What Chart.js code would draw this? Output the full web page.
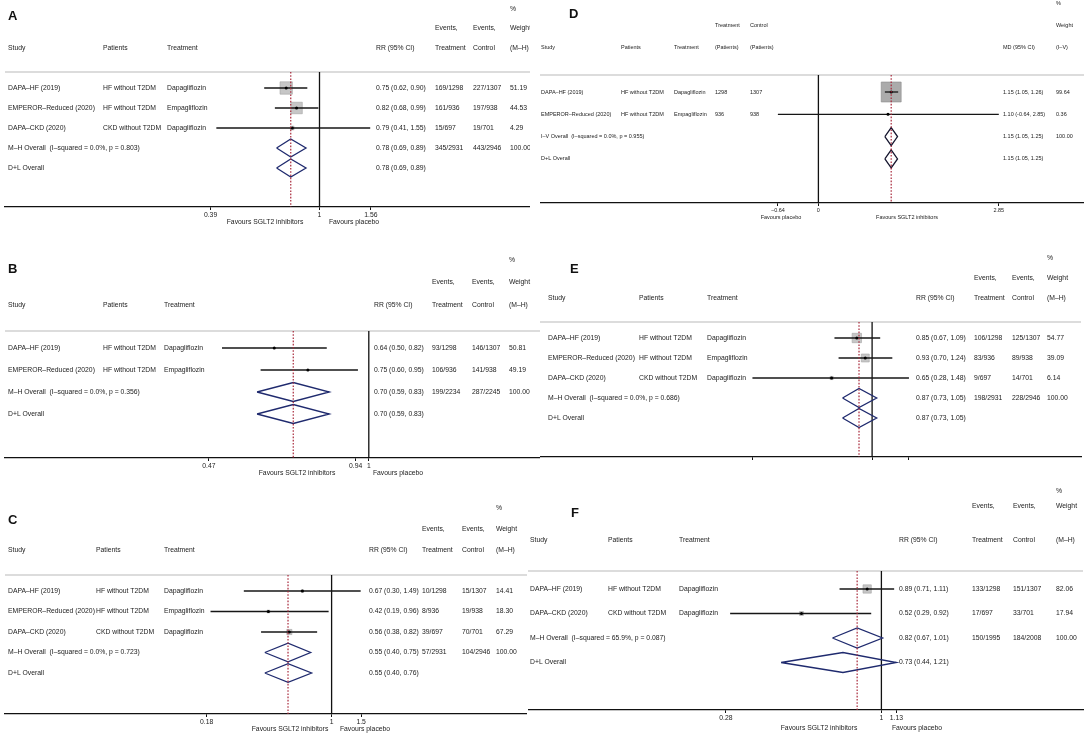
<!DOCTYPE html>
<html>
<head>
<meta charset="utf-8">
<title>SGLT2 inhibitors forest plots</title>
<script src="https://cdn.jsdelivr.net/npm/chart.js@4.4.1/dist/chart.umd.min.js"></script>
<style>
  html, body { margin: 0; padding: 0; background: #fff; }
  #page { position: relative; width: 1084px; height: 736px; overflow: hidden; background: #fff; }
  #page canvas { position: absolute; }
</style>
</head>
<body>
<div id="page">
  <canvas id="forestA"></canvas>
  <canvas id="forestB"></canvas>
  <canvas id="forestC"></canvas>
  <canvas id="forestD"></canvas>
  <canvas id="forestE"></canvas>
  <canvas id="forestF"></canvas>
</div>
<script>
const FONT = '"Liberation Sans", Arial, Helvetica, sans-serif';
Chart.defaults.font.family = FONT;

// Column headings
const headPercent = ["", "", "", "", "", "", "%"];
const headEvents = ["", "", "", "", "Events,", "Events,", "Weight"];
const headRR = ["Study", "Patients", "Treatment", "RR (95% CI)", "Treatment", "Control", "(M–H)"];
const headCounts = ["", "", "", "Treatment", "Control", "", "Weight"];
const headMD = ["Study", "Patients", "Treatment", "(Patients)", "(Patients)", "MD (95% CI)", "(I–V)"];
const favoursRR = ["Favours SGLT2 inhibitors", "Favours placebo"];
const favoursMD = ["Favours placebo", "Favours SGLT2 inhibitors"];

// Panel A
const studyA = ["DAPA–HF (2019)", "EMPEROR–Reduced (2020)", "DAPA–CKD (2020)", "M–H Overall  (I–squared = 0.0%, p = 0.803)", "D+L Overall"];
const patientsA = ["HF without T2DM", "HF without T2DM", "CKD without T2DM"];
const drugA = ["Dapagliflozin", "Empagliflozin", "Dapagliflozin"];
const rrA = [0.75, 0.82, 0.79, 0.78, 0.78];
const lowA = [0.62, 0.68, 0.41, 0.69, 0.69];
const highA = [0.90, 0.99, 1.55, 0.89, 0.89];
const eventsTA = ["169/1298", "161/936", "15/697", "345/2931"];
const eventsCA = ["227/1307", "197/938", "19/701", "443/2946"];
const weightA = [51.19, 44.53, 4.29, 100.00];
const ticksA = [0.39, 1, 1.56];

// Panel B
const studyB = ["DAPA–HF (2019)", "EMPEROR–Reduced (2020)", "M–H Overall  (I–squared = 0.0%, p = 0.356)", "D+L Overall"];
const patientsB = ["HF without T2DM", "HF without T2DM"];
const drugB = ["Dapagliflozin", "Empagliflozin"];
const rrB = [0.64, 0.75, 0.70, 0.70];
const lowB = [0.50, 0.60, 0.59, 0.59];
const highB = [0.82, 0.95, 0.83, 0.83];
const eventsTB = ["93/1298", "106/936", "199/2234"];
const eventsCB = ["146/1307", "141/938", "287/2245"];
const weightB = [50.81, 49.19, 100.00];
const ticksB = [0.47, 0.94, 1];

// Panel C
const studyC = ["DAPA–HF (2019)", "EMPEROR–Reduced (2020)", "DAPA–CKD (2020)", "M–H Overall  (I–squared = 0.0%, p = 0.723)", "D+L Overall"];
const patientsC = ["HF without T2DM", "HF without T2DM", "CKD without T2DM"];
const drugC = ["Dapagliflozin", "Empagliflozin", "Dapagliflozin"];
const rrC = [0.67, 0.42, 0.56, 0.55, 0.55];
const lowC = [0.30, 0.19, 0.38, 0.40, 0.40];
const highC = [1.49, 0.96, 0.82, 0.75, 0.76];
const eventsTC = ["10/1298", "8/936", "39/697", "57/2931"];
const eventsCC = ["15/1307", "19/938", "70/701", "104/2946"];
const weightC = [14.41, 18.30, 67.29, 100.00];
const ticksC = [0.18, 1, 1.5];

// Panel D (mean difference)
const studyD = ["DAPA–HF (2019)", "EMPEROR–Reduced (2020)", "I–V Overall  (I–squared = 0.0%, p = 0.955)", "D+L Overall"];
const patientsD = ["HF without T2DM", "HF without T2DM"];
const drugD = ["Dapagliflozin", "Empagliflozin"];
const mdD = [1.15, 1.10, 1.15, 1.15];
const lowD = [1.05, -0.64, 1.05, 1.05];
const highD = [1.26, 2.85, 1.25, 1.25];
const countTD = ["1298", "936"];
const countCD = ["1307", "938"];
const weightD = [99.64, 0.36, 100.00];
const ticksD = [-0.64, 0, 2.85];

// Panel E
const studyE = ["DAPA–HF (2019)", "EMPEROR–Reduced (2020)", "DAPA–CKD (2020)", "M–H Overall  (I–squared = 0.0%, p = 0.686)", "D+L Overall"];
const patientsE = ["HF without T2DM", "HF without T2DM", "CKD without T2DM"];
const drugE = ["Dapagliflozin", "Empagliflozin", "Dapagliflozin"];
const rrE = [0.85, 0.93, 0.65, 0.87, 0.87];
const lowE = [0.67, 0.70, 0.28, 0.73, 0.73];
const highE = [1.09, 1.24, 1.48, 1.05, 1.05];
const eventsTE = ["106/1298", "83/936", "9/697", "198/2931"];
const eventsCE = ["125/1307", "89/938", "14/701", "228/2946"];
const weightE = [54.77, 39.09, 6.14, 100.00];
const ticksE = [0.28, 1, 1.48];

// Panel F
const studyF = ["DAPA–HF (2019)", "DAPA–CKD (2020)", "M–H Overall  (I–squared = 65.9%, p = 0.087)", "D+L Overall"];
const patientsF = ["HF without T2DM", "CKD without T2DM"];
const drugF = ["Dapagliflozin", "Dapagliflozin"];
const rrF = [0.89, 0.52, 0.82, 0.73];
const lowF = [0.71, 0.29, 0.67, 0.44];
const highF = [1.11, 0.92, 1.01, 1.21];
const eventsTF = ["133/1298", "17/697", "150/1995"];
const eventsCF = ["151/1307", "33/701", "184/2008"];
const weightF = [82.06, 17.94, 100.00];
const ticksF = [0.28, 1, 1.13];

// Layout of each panel in page pixels: canvas box, plot area [left, right, top, bottom],
// where the null line sits and how many px one (log) unit takes.
const panels = [
  { id: "A", scale: "log", study: studyA, patients: patientsA, drug: drugA, est: rrA, low: lowA, high: highA,
    colA: eventsTA, colB: eventsCA, weight: weightA, ticks: ticksA, heads: [headPercent, headEvents, headRR],
    favours: favoursRR, ciCol: 3,
    box: [0, 0, 530, 240], plot: [5, 530, 72, 207], nullPx: 319.5, ppu: 115.7,
    row0: 88, rowStep: 20, diamond: 9, boxK: 1.73, fs: 6.8,
    cols: [8, 103, 167, 376, 435, 473, 510], headY: [9, 28, 48], letterAt: [8, 20], favX: [265, 354], favY: 222 },
  { id: "B", scale: "log", study: studyB, patients: patientsB, drug: drugB, est: rrB, low: lowB, high: highB,
    colA: eventsTB, colB: eventsCB, weight: weightB, ticks: ticksB, heads: [headPercent, headEvents, headRR],
    favours: favoursRR, ciCol: 3,
    box: [0, 240, 540, 240], plot: [5, 540, 331, 458], nullPx: 368.8, ppu: 211.8,
    row0: 348, rowStep: 22, diamond: 9.5, boxK: 0, fs: 6.8,
    cols: [8, 103, 164, 374, 432, 472, 509], headY: [260, 282, 305], letterAt: [8, 273], favX: [297, 398], favY: 473 },
  { id: "C", scale: "log", study: studyC, patients: patientsC, drug: drugC, est: rrC, low: lowC, high: highC,
    colA: eventsTC, colB: eventsCC, weight: weightC, ticks: ticksC, heads: [headPercent, headEvents, headRR],
    favours: favoursRR, ciCol: 3,
    box: [0, 480, 527, 256], plot: [5, 527, 575, 714], nullPx: 331.6, ppu: 72.9,
    row0: 591, rowStep: 20.5, diamond: 9.3, boxK: 0.63, fs: 6.8,
    cols: [8, 96, 164, 369, 422, 462, 496], headY: [508, 529, 550], letterAt: [8, 524], favX: [290, 365], favY: 729 },
  { id: "D", scale: "linear", study: studyD, patients: patientsD, drug: drugD, est: mdD, low: lowD, high: highD,
    colA: countTD, colB: countCD, weight: weightD, ticks: ticksD, heads: [headPercent, headCounts, headMD],
    favours: favoursMD, ciCol: 5, boxFill: "#ababab", boxEdge: "#8a8a8a", diamondColor: "#15152e",
    box: [540, 0, 544, 240], plot: [540, 1084, 75, 203], nullPx: 818.4, ppu: 63.3,
    row0: 92, rowStep: 22.3, diamond: 9, boxK: 2.0, fs: 5.5,
    cols: [541, 621, 674, 715, 750, 1003, 1056], headY: [3, 25, 47], letterAt: [569, 18], favX: [781, 907], favY: 217 },
  { id: "E", scale: "log", study: studyE, patients: patientsE, drug: drugE, est: rrE, low: lowE, high: highE,
    colA: eventsTE, colB: eventsCE, weight: weightE, ticks: ticksE, heads: [headPercent, headEvents, headRR],
    favours: null, ciCol: 3, tickLabels: false,
    box: [540, 240, 544, 224], plot: [540, 1081, 322, 457], nullPx: 872.1, ppu: 94,
    row0: 338, rowStep: 20, diamond: 9.5, boxK: 1.27, fs: 6.8,
    cols: [548, 639, 707, 916, 974, 1012, 1047], headY: [258, 278, 298], letterAt: [570, 273] },
  { id: "F", scale: "log", study: studyF, patients: patientsF, drug: drugF, est: rrF, low: lowF, high: highF,
    colA: eventsTF, colB: eventsCF, weight: weightF, ticks: ticksF, heads: [headPercent, headEvents, headRR],
    favours: favoursRR, ciCol: 3,
    box: [528, 480, 556, 256], plot: [528, 1083, 571, 710], nullPx: 881.4, ppu: 122.2,
    row0: 589, rowStep: 24.5, diamond: 10, boxK: 0.92, fs: 6.8,
    cols: [530, 608, 679, 899, 972, 1013, 1056], headY: [491, 506, 540], letterAt: [571, 517], favX: [819, 917], favY: 728 }
];
const panelById = {};
panels.forEach(p => { panelById["forest" + p.id] = p; });

function ciText(e, l, h) {
  return e.toFixed(2) + " (" + l.toFixed(2) + ", " + h.toFixed(2) + ")";
}

function rowCells(p, i) {
  const w = p.weight[i];
  const cells = [p.study[i], p.patients[i] || "", p.drug[i] || "", p.colA[i] || "", p.colB[i] || "",
    w === undefined ? "" : w.toFixed(2)];
  cells.splice(p.ciCol, 0, ciText(p.est[i], p.low[i], p.high[i]));
  return cells;
}

// Draws the text table, header rule and favours captions around the plot
const tablePlugin = {
  id: "forestTable",
  beforeDatasetsDraw(chart) {
    const ctx = chart.ctx, ca = chart.chartArea;
    ctx.save();
    ctx.strokeStyle = "#d0d0d0";
    ctx.lineWidth = 1.6;
    ctx.beginPath();
    ctx.moveTo(ca.left, ca.top);
    ctx.lineTo(ca.right, ca.top);
    ctx.stroke();
    ctx.restore();
  },
  afterDraw(chart) {
    const p = panelById[chart.canvas.id];
    const ctx = chart.ctx;
    const bx = p.box[0], by = p.box[1];
    ctx.save();
    ctx.textAlign = "left";
    ctx.fillStyle = "#111";
    ctx.font = "bold 13px " + FONT;
    ctx.textBaseline = "alphabetic";
    ctx.fillText(p.id, p.letterAt[0] - bx, p.letterAt[1] - by);

    ctx.font = p.fs + "px " + FONT;
    ctx.textBaseline = "middle";
    ctx.fillStyle = "#222";
    p.heads.forEach((row, r) => {
      row.forEach((t, c) => { if (t) ctx.fillText(t, p.cols[c] - bx, p.headY[r] - by); });
    });

    const ys = chart.scales.y;
    p.study.forEach((_, i) => {
      const y = ys.getPixelForValue(i);
      rowCells(p, i).forEach((t, c) => { if (t) ctx.fillText(t, p.cols[c] - bx, y); });
    });

    if (p.favours) {
      ctx.textAlign = "center";
      p.favours.forEach((t, k) => ctx.fillText(t, p.favX[k] - bx, p.favY - by));
    }
    ctx.restore();
  }
};

function makeForest(p) {
  const cv = document.getElementById("forest" + p.id);
  const [bx, by, bw, bh] = p.box;
  const [left, right, top, bottom] = p.plot;
  cv.width = bw;
  cv.height = bh;
  cv.style.left = bx + "px";
  cv.style.top = by + "px";
  cv.style.width = bw + "px";
  cv.style.height = bh + "px";

  const isLog = p.scale === "log";
  const toValue = px => isLog ? Math.exp((px - p.nullPx) / p.ppu) : (px - p.nullPx) / p.ppu;
  const xMin = toValue(left), xMax = toValue(right);
  const yMin = (top - p.row0) / p.rowStep, yMax = (bottom - p.row0) / p.rowStep;
  const nullValue = isLog ? 1 : 0;
  const nS = p.patients.length;
  const h = p.diamond / p.rowStep;
  // marks are cut at the labelled axis range, as the original plot does
  const tMin = Math.min(...p.ticks), tMax = Math.max(...p.ticks);
  const cut = v => Math.min(Math.max(v, tMin), tMax);
  const datasets = [];

  // weight boxes
  datasets.push({
    data: p.patients.map((_, i) => ({ x: p.est[i], y: i })),
    pointStyle: "rect",
    pointRadius: p.patients.map((_, i) => p.boxK * Math.sqrt(p.weight[i]) / Math.SQRT2),
    backgroundColor: p.boxFill || "#c6c6c6",
    borderColor: p.boxEdge || "#a4a4a4",
    borderWidth: 0.6,
    order: 6
  });
  // null line
  datasets.push({
    data: [{ x: nullValue, y: yMin }, { x: nullValue, y: yMax }],
    showLine: true, borderColor: "#111", borderWidth: 1.3, pointRadius: 0, order: 5
  });
  // confidence intervals
  for (let i = 0; i < nS; i++) {
    datasets.push({
      data: [{ x: cut(p.low[i]), y: i }, { x: cut(p.high[i]), y: i }],
      showLine: true, borderColor: "#161616", borderWidth: 1.3, pointRadius: 0, order: 4
    });
  }
  // pooled diamonds
  for (let j = nS; j < p.study.length; j++) {
    const lo = cut(p.low[j]), hi = cut(p.high[j]);
    datasets.push({
      data: [
        { x: lo, y: j }, { x: p.est[j], y: j - h }, { x: hi, y: j },
        { x: p.est[j], y: j + h }, { x: lo, y: j }
      ],
      showLine: true, borderColor: p.diamondColor || "#1f2a6e", borderWidth: 1.3, pointRadius: 0, order: 3
    });
  }
  // point estimates
  datasets.push({
    data: p.patients.map((_, i) => ({ x: p.est[i], y: i })),
    pointRadius: 1.5, backgroundColor: "#000", borderWidth: 0, order: 2
  });
  // pooled estimate (dotted red)
  datasets.push({
    data: [{ x: p.est[nS], y: yMin }, { x: p.est[nS], y: yMax }],
    showLine: true, borderColor: "#a8283a", borderWidth: 1.2, borderDash: [1.6, 1.6],
    pointRadius: 0, order: 1
  });

  return new Chart(cv, {
    type: "scatter",
    data: { datasets },
    options: {
      responsive: false,
      animation: false,
      events: [],
      layout: { autoPadding: false, padding: { left: left - bx, right: bx + bw - right, top: top - by, bottom: 0 } },
      plugins: { legend: { display: false }, tooltip: { enabled: false } },
      elements: { line: { tension: 0 } },
      scales: {
        x: {
          type: isLog ? "logarithmic" : "linear",
          min: xMin,
          max: xMax,
          bounds: "data",
          afterBuildTicks: axis => { axis.ticks = p.ticks.map(v => ({ value: v })); },
          afterFit: axis => { axis.height = bh - (bottom - by); },
          ticks: {
            display: p.tickLabels !== false,
            autoSkip: false,
            maxRotation: 0,
            padding: 1,
            color: "#222",
            font: { size: p.fs },
            callback: v => String(v).replace("-", "−")
          },
          grid: { display: true, drawOnChartArea: false, drawTicks: true, tickLength: 3, color: "#111", lineWidth: 1 },
          border: { display: true, color: "#111", width: 1.3 }
        },
        y: { type: "linear", display: false, reverse: true, min: yMin, max: yMax }
      }
    },
    plugins: [tablePlugin]
  });
}

panels.forEach(makeForest);
</script>
</body>
</html>
